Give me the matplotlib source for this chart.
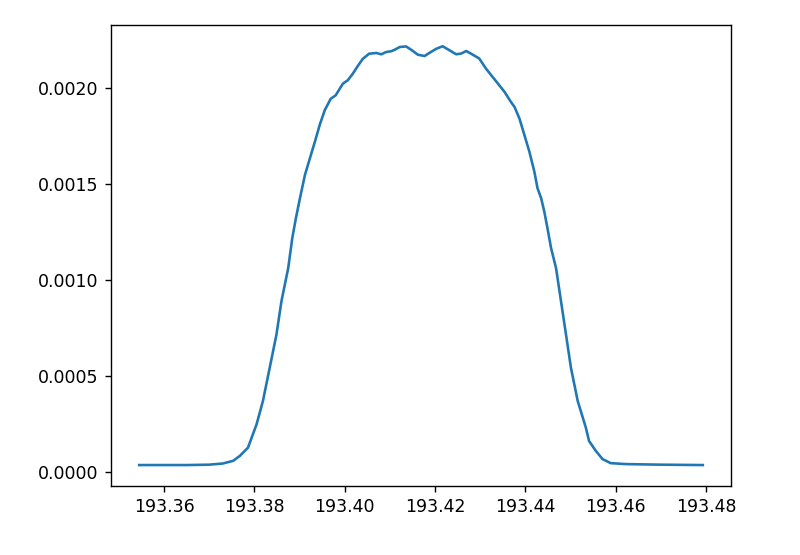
import numpy as np
import matplotlib
matplotlib.use("Agg")
import matplotlib.pyplot as plt

# frequency axis and power values
freq = [193.3545, 193.3600, 193.3650, 193.3700, 193.3730, 193.3753, 193.3768,
        193.3786, 193.3805, 193.3819, 193.3834, 193.3849, 193.3860, 193.3875,
        193.3884, 193.3892, 193.3901, 193.3912, 193.3923, 193.3934, 193.3945,
        193.3956, 193.3969, 193.3980, 193.3996, 193.4007, 193.4018, 193.4029,
        193.4040, 193.4054, 193.4070, 193.4081, 193.4092, 193.4103, 193.4111,
        193.4122, 193.4136, 193.4147, 193.4162, 193.4177, 193.4188, 193.4203,
        193.4217, 193.4232, 193.4247, 193.4258, 193.4269, 193.4280, 193.4298,
        193.4313, 193.4332, 193.4354, 193.4368, 193.4376, 193.4387, 193.4398,
        193.4409, 193.4420, 193.4427, 193.4435, 193.4442, 193.4449, 193.4457,
        193.4468, 193.4479, 193.4490, 193.4501, 193.4516, 193.4534, 193.4541,
        193.4556, 193.4571, 193.4589, 193.4623, 193.4700, 193.4793]
power = [3.5e-5, 3.5e-5, 3.5e-5, 3.7e-5, 4.3e-5, 5.7e-5, 8.3e-5,
         1.26e-4, 2.48e-4, 3.69e-4, 5.42e-4, 7.16e-4, 8.89e-4, 1.062e-3,
         1.218e-3, 1.322e-3, 1.426e-3, 1.547e-3, 1.634e-3, 1.720e-3, 1.810e-3,
         1.885e-3, 1.944e-3, 1.962e-3, 2.023e-3, 2.041e-3, 2.075e-3, 2.115e-3,
         2.152e-3, 2.179e-3, 2.183e-3, 2.176e-3, 2.188e-3, 2.192e-3, 2.200e-3,
         2.214e-3, 2.217e-3, 2.200e-3, 2.174e-3, 2.167e-3, 2.184e-3, 2.205e-3,
         2.218e-3, 2.197e-3, 2.176e-3, 2.180e-3, 2.193e-3, 2.179e-3, 2.154e-3,
         2.101e-3, 2.045e-3, 1.980e-3, 1.928e-3, 1.902e-3, 1.841e-3, 1.755e-3,
         1.668e-3, 1.564e-3, 1.478e-3, 1.426e-3, 1.356e-3, 1.270e-3, 1.166e-3,
         1.062e-3, 8.89e-4, 7.16e-4, 5.42e-4, 3.69e-4, 2.30e-4, 1.61e-4,
         1.09e-4, 6.6e-5, 4.5e-5, 4.0e-5, 3.7e-5, 3.5e-5]

s = 1.25  # reference looks like a default figure rendered at 125 dpi
plt.rcParams.update({
    "font.size": 10 * s,
    "xtick.major.size": 3.5 * s, "ytick.major.size": 3.5 * s,
    "xtick.major.width": 0.8 * s, "ytick.major.width": 0.8 * s,
    "xtick.major.pad": 3.5 * s, "ytick.major.pad": 3.5 * s,
    "axes.linewidth": 0.8 * s,
})

fig = plt.figure(figsize=(8, 5.55), dpi=100)
ax = fig.add_axes([111 / 800, 1 - 486 / 555, 620 / 800, 460.7 / 555])
ax.plot(freq, power, lw=1.5 * s)

fig.savefig("out.png", dpi=100)
